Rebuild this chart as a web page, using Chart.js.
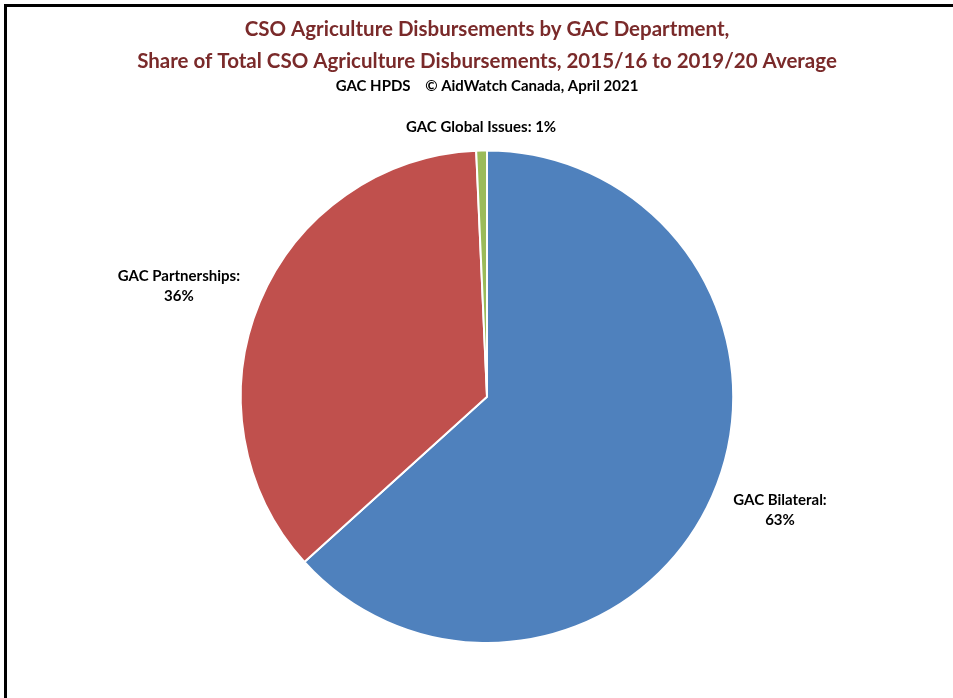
<!DOCTYPE html>
<html>
<head>
<meta charset="utf-8">
<title>CSO Agriculture Disbursements by GAC Department</title>
<script src="https://cdn.jsdelivr.net/npm/chart.js@4.4.1/dist/chart.umd.min.js"></script>
<style>
  html, body { margin: 0; padding: 0; background: #fff; overflow: hidden; }
  #frame {
    position: absolute; left: 4px; top: 4px;
    width: 1000px; height: 760px;
    border: 3px solid #000;
  }
  #wrap { position: absolute; left: 0; top: 0; width: 953px; height: 698px; }
</style>
</head>
<body>
<div id="frame"></div>
<div id="wrap"><canvas id="pie"></canvas></div>
<script>
// Share of total CSO agriculture disbursements, 2015/16 to 2019/20 average (%)
const departments = ['GAC Bilateral', 'GAC Partnerships', 'GAC Global Issues'];
const shares = [63.3, 36.0, 0.7];
const sliceColors = ['#4F81BD', '#C0504D', '#9BBB59'];

const titleLines = [
    'CSO Agriculture Disbursements by GAC Department,',
    'Share of Total CSO Agriculture Disbursements, 2015/16 to 2019/20 Average'
];
const subtitleText = 'GAC HPDS    \u00A9 AidWatch Canada, April 2021';

const FONT = 'Lato, "Open Sans", sans-serif';

// Excel-style outside labels: "Name: NN%" placed just beyond each slice
const outsideLabels = {
    id: 'outsideLabels',
    afterDatasetsDraw(chart) {
        const ctx = chart.ctx;
        const meta = chart.getDatasetMeta(0);
        const total = shares.reduce((a, b) => a + b, 0);
        ctx.save();
        ctx.font = 'bold 15px ' + FONT;
        ctx.fillStyle = '#000';
        ctx.textAlign = 'center';
        ctx.textBaseline = 'middle';
        meta.data.forEach((arc, i) => {
            const pct = Math.round(shares[i] / total * 100) + '%';
            // the tiny slice keeps its label on one line, straight above
            const small = shares[i] < 5;
            const lines = small ? [departments[i] + ': ' + pct] : [departments[i] + ':', pct];
            const lh = 20;
            const w = Math.max(...lines.map(l => ctx.measureText(l).width));
            const h = lines.length * lh;
            const mid = (arc.startAngle + arc.endAngle) / 2 - (small ? 0 : 0.05);
            const dx = Math.cos(mid), dy = Math.sin(mid);
            const dist = arc.outerRadius + (small ? 12 : 17) + Math.abs(dx) * w / 2 + Math.abs(dy) * h / 2;
            const cx = arc.x + dx * dist;
            const cy = arc.y + dy * dist;
            lines.forEach((l, k) => {
                ctx.fillText(l, cx, cy - h / 2 + lh / 2 + k * lh);
            });
        });
        ctx.restore();
    }
};

new Chart(document.getElementById('pie'), {
    type: 'pie',
    data: {
        labels: departments,
        datasets: [{
            data: shares,
            backgroundColor: sliceColors,
            borderColor: '#fff',
            borderWidth: 2
        }]
    },
    options: {
        responsive: true,
        maintainAspectRatio: false,
        animation: false,
        layout: { padding: { left: 21, right: 0, top: 0, bottom: 54 } },
        plugins: {
            legend: { display: false },
            tooltip: { enabled: false },
            title: {
                display: true,
                text: titleLines,
                color: '#7A2A2A',
                font: { family: FONT, size: 20.5, weight: 'bold', lineHeight: 1.55 },
                padding: { top: 14, bottom: 0 }
            },
            subtitle: {
                display: true,
                text: subtitleText,
                color: '#000',
                font: { family: FONT, size: 15, weight: 'bold', lineHeight: 1.2 },
                padding: { top: 0, bottom: 54 }
            }
        }
    },
    plugins: [outsideLabels]
});
</script>
</body>
</html>
